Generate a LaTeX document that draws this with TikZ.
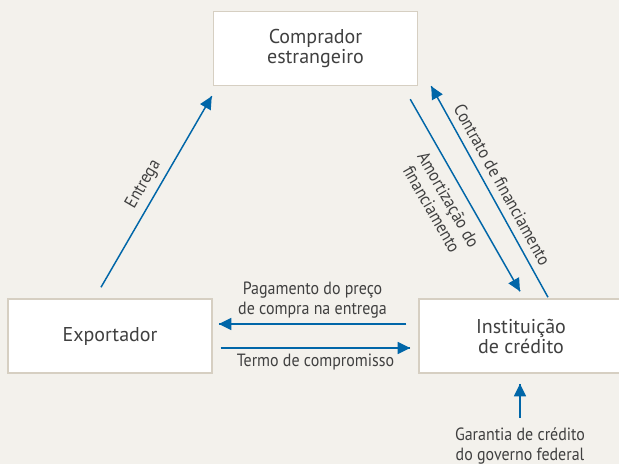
\documentclass[tikz,border=0pt]{standalone}
\usepackage{fontspec}
\setmainfont{PT Sans}
\newfontfamily\narrowsans[FakeStretch=0.9]{PT Sans}
\usepackage{tikz}
\usetikzlibrary{arrows.meta}
\usetikzlibrary{decorations.markings}
\definecolor{mblue}{rgb}{0.0, 0.40, 0.66}
\definecolor{mbeige}{rgb}{0.953, 0.945, 0.925}
\definecolor{mborder}{rgb}{0.84, 0.81, 0.76}
\definecolor{mtext}{rgb}{0.25, 0.25, 0.25}
\tikzset{flow/.style = {color=mblue, line width=1.1pt,
                        decoration={markings,
                                    mark=at position 1 with {\arrow{Triangle[length=9.5pt, width=9pt]}}},
                        postaction={decorate}}}
\tikzset{box/.style = {draw=mborder, fill=white, line width=1.1pt, inner sep=0pt,
                       minimum width=153pt, minimum height=55.5pt, align=center,
                       text=mtext, font=\fontsize{15}{15}\selectfont}}
\tikzset{lbl/.style = {text=mtext, align=center, inner sep=0pt,
                       font=\narrowsans\fontsize{13.3}{14.5}\selectfont}}

\begin{document}
\begin{tikzpicture}[x=0.75pt, y=-0.75pt]
      \useasboundingbox (0, 0) rectangle (619, 464);
      \fill [mbeige] (0, 0) rectangle (619, 464);
      \node [box] (comprador) at (315.5, 48.5) {Comprador\\estrangeiro};
      \node [box] (exportador) at (110, 336) {Exportador};
      \node [box] (instituicao) at (521, 336) {Instituição\\de crédito};
      \node [lbl] (garantia) at (520, 446) {Garantia de crédito\\do governo federal};
      \draw [flow] ([shift={(-9, -11)}]exportador.north) -- node [lbl, sloped, above=4.5pt] {Entrega} ([shift={(-1, 10)}]comprador.south west);
      \draw [flow] ([shift={(-8, 13)}]comprador.south east) -- node [lbl, sloped, below=7pt, pos=0.48] {Amortização do\\financiamento} ([shift={(-1, -7)}]instituicao.north);
      \draw [flow] ([shift={(27, -1)}]instituicao.north) -- node [lbl, sloped, above=5.5pt] {Contrato de financiamento} ([shift={(13, 0)}]comprador.south east);
      \draw [flow] ([shift={(-12, -12)}]instituicao.west) -- node [lbl, above=4pt] {Pagamento do preço\\de compra na entrega} ([shift={(6, -12)}]exportador.east);
      \draw [flow] ([shift={(8, 12)}]exportador.east) -- node [lbl, below=4pt] {Termo de compromisso} ([shift={(-8, 12)}]instituicao.west);
      \draw [flow] ([shift={(0, -10)}]garantia.north) -- ([shift={(-1, 10)}]instituicao.south);
    \end{tikzpicture}
\end{document}
